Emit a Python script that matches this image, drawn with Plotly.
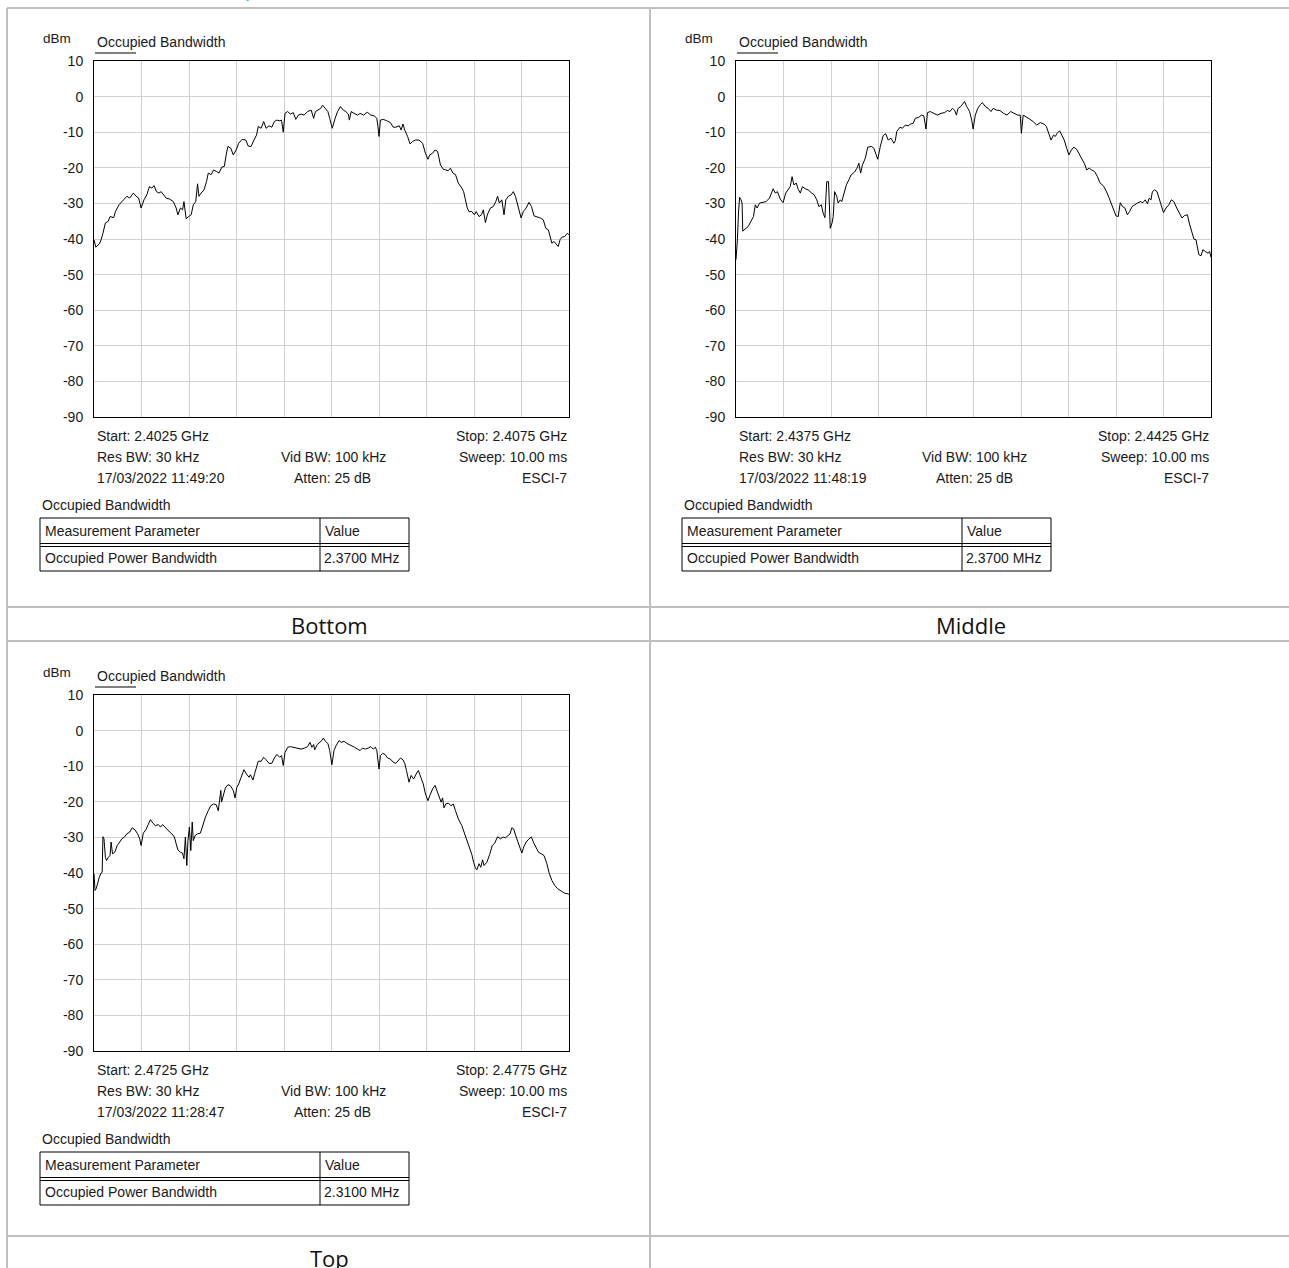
import plotly.graph_objects as go

W, H = 1289, 1268

# ---- measurement settings for the three channels ----
captions = ["Bottom", "Middle", "Top"]
start_ghz = [2.4025, 2.4375, 2.4725]
stop_ghz = [2.4075, 2.4425, 2.4775]
start_labels = ["Start: 2.4025 GHz", "Start: 2.4375 GHz", "Start: 2.4725 GHz"]
stop_labels = ["Stop: 2.4075 GHz", "Stop: 2.4425 GHz", "Stop: 2.4775 GHz"]
timestamps = ["17/03/2022 11:49:20", "17/03/2022 11:48:19", "17/03/2022 11:28:47"]
obw_values = ["2.3700 MHz", "2.3700 MHz", "2.3100 MHz"]

y_tick_vals = [10, 0, -10, -20, -30, -40, -50, -60, -70, -80, -90]
y_tick_labels = ["10", "0", "-10", "-20", "-30", "-40", "-50", "-60", "-70", "-80", "-90"]

# ---- traces: offset from start frequency (MHz) and level (dBm) ----
bottom_offset_mhz = [
    0.000, 0.019, 0.056, 0.075, 0.094, 0.120, 0.150, 0.169, 0.207, 0.226, 0.263, 0.293,
    0.320, 0.346, 0.376, 0.414, 0.444, 0.470, 0.496, 0.526, 0.556, 0.583, 0.609, 0.632,
    0.658, 0.684, 0.707, 0.733, 0.759, 0.797, 0.835, 0.865, 0.883, 0.910, 0.932, 0.947,
    0.970, 0.996, 1.023, 1.045, 1.071, 1.090, 1.105, 1.128, 1.158, 1.184, 1.203, 1.233,
    1.259, 1.286, 1.316, 1.346, 1.372, 1.391, 1.410, 1.440, 1.466, 1.496, 1.523, 1.560,
    1.598, 1.624, 1.654, 1.684, 1.711, 1.729, 1.759, 1.786, 1.812, 1.842, 1.872, 1.898,
    1.925, 1.955, 1.974, 1.992, 2.011, 2.038, 2.068, 2.098, 2.124, 2.150, 2.180, 2.211,
    2.248, 2.286, 2.312, 2.331, 2.361, 2.387, 2.406, 2.436, 2.462, 2.481, 2.508, 2.538,
    2.564, 2.594, 2.624, 2.650, 2.677, 2.688, 2.707, 2.737, 2.774, 2.801, 2.838, 2.876,
    2.914, 2.951, 2.977, 2.989, 3.000, 3.015, 3.045, 3.083, 3.120, 3.150, 3.177, 3.214,
    3.233, 3.252, 3.271, 3.301, 3.327, 3.353, 3.383, 3.421, 3.459, 3.489, 3.515, 3.534,
    3.564, 3.590, 3.617, 3.647, 3.677, 3.703, 3.729, 3.752, 3.778, 3.805, 3.835, 3.872,
    3.891, 3.910, 3.929, 3.947, 3.977, 4.004, 4.023, 4.053, 4.079, 4.098, 4.120, 4.143,
    4.173, 4.203, 4.229, 4.248, 4.267, 4.293, 4.316, 4.335, 4.361, 4.391, 4.414, 4.436,
    4.466, 4.496, 4.519, 4.549, 4.579, 4.605, 4.632, 4.662, 4.699, 4.729, 4.756, 4.782,
    4.805, 4.820, 4.842, 4.868, 4.887, 4.906, 4.925, 4.955, 4.981, 5.000,
]
bottom_dbm = [
    -40.2, -42.3, -41.4, -40.2, -38.4, -35.5, -35.0, -33.7, -34.0, -32.3, -30.4, -29.5,
    -29.0, -28.0, -28.5, -27.1, -28.0, -28.5, -31.3, -29.0, -27.6, -25.3, -25.7, -25.0,
    -26.7, -27.1, -26.7, -27.6, -28.5, -28.8, -29.5, -31.3, -33.2, -31.3, -31.8, -29.5,
    -34.3, -33.7, -33.2, -30.4, -29.5, -24.5, -28.0, -27.1, -26.2, -23.9, -21.5, -21.9,
    -20.6, -21.0, -21.5, -19.8, -19.6, -16.4, -14.0, -14.5, -16.4, -15.0, -13.1, -12.0,
    -12.2, -13.9, -14.0, -12.2, -10.8, -8.4, -8.9, -7.0, -8.9, -8.2, -8.6, -7.0,
    -6.6, -6.8, -6.6, -10.0, -4.7, -4.2, -4.9, -4.5, -6.4, -5.2, -4.9, -5.2,
    -4.2, -3.8, -6.1, -4.2, -3.8, -3.3, -2.4, -3.3, -4.2, -6.1, -8.9, -6.1,
    -4.2, -2.8, -3.8, -4.2, -4.9, -6.6, -4.2, -4.7, -5.2, -4.7, -5.2, -4.4,
    -5.2, -5.4, -6.1, -8.4, -11.2, -6.6, -6.4, -6.8, -7.3, -8.6, -8.6, -8.2,
    -9.4, -7.7, -9.4, -11.2, -13.3, -12.6, -12.2, -12.2, -13.1, -15.9, -17.6, -16.4,
    -15.9, -15.0, -15.4, -19.2, -20.4, -20.6, -20.8, -20.1, -21.5, -21.9, -24.3, -25.7,
    -26.7, -29.0, -31.3, -32.3, -32.3, -33.2, -32.3, -33.7, -33.2, -31.8, -35.4, -33.0,
    -31.3, -30.9, -29.5, -28.0, -29.9, -29.0, -33.2, -29.0, -28.0, -27.6, -26.7, -28.0,
    -30.9, -34.1, -32.3, -31.3, -29.7, -30.9, -33.5, -33.7, -34.1, -34.6, -37.0, -37.4,
    -39.3, -41.2, -40.7, -41.6, -42.1, -40.2, -39.5, -39.3, -38.4, -38.8,
]

middle_offset_mhz = [
    0.000, 0.015, 0.026, 0.038, 0.053, 0.064, 0.071, 0.098, 0.128, 0.158, 0.184, 0.203,
    0.222, 0.248, 0.278, 0.316, 0.353, 0.391, 0.414, 0.436, 0.466, 0.496, 0.523, 0.549,
    0.571, 0.590, 0.609, 0.635, 0.654, 0.677, 0.699, 0.729, 0.759, 0.797, 0.823, 0.850,
    0.872, 0.898, 0.917, 0.936, 0.955, 0.974, 0.985, 0.992, 1.011, 1.023, 1.038, 1.060,
    1.075, 1.098, 1.113, 1.135, 1.162, 1.188, 1.211, 1.248, 1.274, 1.293, 1.312, 1.331,
    1.361, 1.387, 1.425, 1.451, 1.474, 1.492, 1.519, 1.549, 1.575, 1.602, 1.632, 1.662,
    1.677, 1.692, 1.726, 1.752, 1.782, 1.812, 1.838, 1.865, 1.887, 1.925, 1.951, 1.977,
    2.000, 2.015, 2.045, 2.083, 2.120, 2.158, 2.195, 2.226, 2.252, 2.278, 2.301, 2.320,
    2.338, 2.365, 2.391, 2.406, 2.429, 2.459, 2.481, 2.496, 2.519, 2.545, 2.571, 2.594,
    2.624, 2.654, 2.684, 2.707, 2.741, 2.778, 2.816, 2.853, 2.891, 2.929, 2.966, 2.992,
    3.004, 3.023, 3.053, 3.090, 3.128, 3.165, 3.203, 3.241, 3.267, 3.286, 3.316, 3.342,
    3.361, 3.380, 3.406, 3.429, 3.455, 3.481, 3.504, 3.530, 3.556, 3.586, 3.617, 3.643,
    3.669, 3.692, 3.718, 3.744, 3.774, 3.805, 3.831, 3.868, 3.895, 3.925, 3.947, 3.970,
    4.000, 4.023, 4.045, 4.068, 4.094, 4.120, 4.143, 4.169, 4.195, 4.226, 4.256, 4.282,
    4.308, 4.331, 4.350, 4.368, 4.383, 4.406, 4.432, 4.459, 4.481, 4.500, 4.526, 4.556,
    4.583, 4.609, 4.639, 4.669, 4.695, 4.722, 4.752, 4.771, 4.797, 4.820, 4.842, 4.857,
    4.872, 4.895, 4.914, 4.940, 4.970, 4.985, 5.000,
]
middle_dbm = [
    -45.8, -40.2, -32.7, -28.3, -29.0, -29.9, -37.8, -37.3, -36.5, -35.0, -33.7, -30.4,
    -31.3, -29.9, -29.8, -29.5, -28.5, -25.9, -27.1, -26.7, -28.8, -29.8, -27.1, -26.2,
    -25.3, -22.5, -24.8, -24.3, -26.0, -27.1, -25.3, -25.9, -26.2, -27.1, -27.6, -29.0,
    -30.9, -30.4, -32.7, -34.0, -23.9, -23.9, -30.9, -37.0, -35.5, -33.7, -26.7, -28.0,
    -29.9, -29.0, -29.5, -27.6, -24.8, -23.4, -22.0, -21.2, -20.1, -18.7, -21.5, -19.2,
    -17.3, -14.2, -14.0, -14.5, -16.4, -17.6, -14.0, -11.0, -10.4, -12.2, -11.7, -13.1,
    -12.4, -9.8, -8.6, -8.9, -8.0, -8.2, -7.7, -7.5, -6.1, -5.8, -5.2, -5.4,
    -9.1, -4.5, -4.2, -4.7, -5.2, -4.7, -4.5, -3.9, -4.2, -3.3, -3.8, -5.2,
    -3.3, -2.8, -1.9, -1.4, -2.8, -4.2, -6.6, -9.1, -5.2, -3.3, -2.3, -1.7,
    -2.8, -3.3, -4.2, -3.3, -3.8, -3.9, -4.7, -5.2, -4.2, -4.7, -5.2, -5.2,
    -10.3, -5.2, -5.6, -6.3, -7.0, -8.0, -7.3, -7.7, -8.4, -9.8, -12.2, -10.8,
    -11.2, -10.3, -9.6, -10.8, -12.2, -14.5, -16.4, -15.0, -14.2, -14.8, -16.4, -17.8,
    -18.9, -20.6, -20.1, -20.6, -21.0, -22.5, -24.2, -25.1, -26.4, -28.3, -29.9, -31.8,
    -33.5, -33.7, -29.8, -30.9, -31.3, -33.2, -32.3, -30.9, -30.4, -29.9, -29.5, -29.8,
    -29.0, -30.1, -28.5, -29.0, -26.7, -26.2, -26.7, -29.0, -30.4, -32.6, -31.3, -30.4,
    -29.0, -29.5, -31.3, -32.7, -34.1, -33.4, -33.2, -35.5, -37.6, -40.0, -40.2, -42.6,
    -44.4, -44.7, -43.0, -43.5, -44.0, -43.5, -45.1,
]

top_offset_mhz = [
    0.000, 0.011, 0.023, 0.038, 0.056, 0.075, 0.086, 0.094, 0.105, 0.120, 0.132, 0.150,
    0.169, 0.180, 0.195, 0.218, 0.244, 0.271, 0.293, 0.320, 0.346, 0.376, 0.402, 0.432,
    0.459, 0.481, 0.496, 0.519, 0.545, 0.571, 0.594, 0.620, 0.647, 0.677, 0.699, 0.722,
    0.744, 0.771, 0.797, 0.820, 0.846, 0.865, 0.883, 0.910, 0.932, 0.947, 0.962, 0.977,
    0.989, 1.004, 1.019, 1.034, 1.045, 1.064, 1.090, 1.120, 1.147, 1.173, 1.203, 1.229,
    1.259, 1.286, 1.308, 1.323, 1.335, 1.342, 1.361, 1.383, 1.410, 1.436, 1.466, 1.485,
    1.504, 1.523, 1.549, 1.579, 1.605, 1.632, 1.647, 1.673, 1.692, 1.711, 1.729, 1.759,
    1.786, 1.812, 1.842, 1.872, 1.898, 1.925, 1.955, 1.974, 1.992, 2.011, 2.038, 2.068,
    2.105, 2.143, 2.180, 2.218, 2.248, 2.274, 2.293, 2.312, 2.323, 2.350, 2.376, 2.398,
    2.414, 2.436, 2.462, 2.481, 2.504, 2.526, 2.549, 2.579, 2.602, 2.632, 2.662, 2.688,
    2.714, 2.744, 2.774, 2.801, 2.827, 2.857, 2.887, 2.914, 2.940, 2.962, 2.977, 2.989,
    3.000, 3.015, 3.038, 3.064, 3.090, 3.120, 3.150, 3.177, 3.203, 3.226, 3.252, 3.271,
    3.289, 3.316, 3.338, 3.365, 3.391, 3.414, 3.440, 3.466, 3.489, 3.515, 3.534, 3.564,
    3.590, 3.617, 3.639, 3.654, 3.669, 3.684, 3.703, 3.729, 3.759, 3.782, 3.805, 3.835,
    3.872, 3.902, 3.929, 3.955, 3.977, 3.996, 4.015, 4.030, 4.053, 4.071, 4.090, 4.105,
    4.135, 4.165, 4.192, 4.218, 4.248, 4.278, 4.305, 4.331, 4.353, 4.380, 4.398, 4.417,
    4.444, 4.474, 4.504, 4.523, 4.549, 4.579, 4.605, 4.624, 4.654, 4.680, 4.707, 4.737,
    4.767, 4.793, 4.820, 4.850, 4.880, 4.906, 4.932, 4.955, 4.981, 5.000,
]
top_dbm = [
    -40.2, -44.9, -44.4, -42.6, -41.2, -40.0, -39.8, -29.8, -30.4, -35.6, -36.5, -35.6,
    -35.1, -31.3, -34.6, -34.2, -32.3, -31.3, -30.4, -29.9, -29.0, -28.5, -27.3, -27.9,
    -29.0, -30.4, -32.3, -28.8, -27.9, -26.4, -25.0, -26.0, -26.7, -26.4, -27.1, -26.4,
    -27.1, -27.9, -28.5, -29.0, -29.9, -31.8, -33.5, -34.2, -34.4, -36.0, -29.9, -37.9,
    -30.9, -27.1, -33.7, -25.7, -30.9, -29.5, -29.0, -28.8, -26.2, -24.3, -22.5, -21.1,
    -20.6, -20.8, -22.5, -19.2, -16.8, -20.1, -17.8, -16.1, -15.2, -15.5, -16.8, -18.9,
    -15.9, -15.0, -13.1, -11.0, -12.2, -13.1, -12.4, -13.9, -12.0, -10.3, -8.6, -8.6,
    -7.5, -8.2, -9.2, -9.2, -7.7, -6.7, -7.5, -7.0, -9.8, -6.1, -4.7, -4.5,
    -4.7, -4.9, -5.2, -4.9, -4.5, -3.3, -4.7, -3.9, -5.4, -3.9, -3.3, -2.8,
    -2.1, -3.0, -3.6, -5.6, -9.6, -5.6, -4.2, -2.8, -3.3, -3.0, -3.6, -3.9,
    -4.2, -4.7, -5.2, -5.6, -4.9, -5.2, -4.9, -4.5, -5.2, -4.7, -5.6, -8.0,
    -10.8, -7.0, -6.4, -6.7, -7.7, -8.0, -8.9, -9.2, -8.4, -7.7, -8.2, -9.2,
    -11.2, -14.5, -12.6, -13.6, -12.2, -11.2, -13.1, -15.0, -17.8, -19.7, -18.3, -16.4,
    -15.4, -17.3, -18.7, -20.1, -18.9, -21.7, -20.6, -20.4, -21.1, -20.6, -22.5, -24.8,
    -26.7, -29.0, -30.9, -33.2, -34.8, -37.0, -38.6, -39.1, -37.4, -38.4, -36.3, -37.9,
    -37.0, -34.8, -32.3, -31.6, -29.8, -30.4, -29.9, -30.1, -29.5, -29.0, -27.3, -27.6,
    -29.9, -32.3, -34.4, -32.7, -31.3, -30.4, -29.9, -31.3, -32.7, -34.2, -34.6, -35.1,
    -37.4, -40.2, -42.1, -43.5, -44.4, -44.9, -45.4, -45.7, -45.8, -46.0,
]

offsets = [bottom_offset_mhz, middle_offset_mhz, top_offset_mhz]
levels = [bottom_dbm, middle_dbm, top_dbm]

# ---- page geometry helpers (page pixel -> paper fraction) ----
# the drawing area sits 8 px below the page top and is 1252 px tall
TOP_PAD = 8
PAPER_H = 1252


def px(x):
    return x / W


def py(y):
    return 1 - (y - TOP_PAD) / PAPER_H


INSTR_FONT = "Liberation Sans, Arial, sans-serif"
CAPTION_FONT = "Open Sans, Noto Sans, sans-serif"
TEXT = "#1a1a1a"
BORDER = "#bfbfbf"

# panel origins (x, y) in pixels
origins = [(0, 0), (642, 0), (0, 634)]

fig = go.Figure()
annotations = []
shapes = []


def label(x, y, text, anchor="left", size=14, family=INSTR_FONT, color=TEXT):
    annotations.append(dict(
        x=px(x), y=py(y), xref="paper", yref="paper", text=text, showarrow=False,
        xanchor=anchor, yanchor="middle", font=dict(family=family, size=size, color=color),
    ))


def hline(x0, x1, y, color="black", width=1):
    shapes.append(dict(type="line", xref="paper", yref="paper", x0=px(x0), x1=px(x1),
                       y0=py(y), y1=py(y), line=dict(color=color, width=width)))


def vline(x, y0, y1, color="black", width=1):
    shapes.append(dict(type="line", xref="paper", yref="paper", x0=px(x), x1=px(x),
                       y0=py(y0), y1=py(y1), line=dict(color=color, width=width)))


for i in range(3):
    ox, oy = origins[i]
    idx = "" if i == 0 else str(i + 1)
    freqs = [start_ghz[i] + f / 1000.0 for f in offsets[i]]
    fig.add_trace(go.Scatter(
        x=freqs, y=levels[i], mode="lines", xaxis="x" + idx, yaxis="y" + idx,
        line=dict(color="black", width=1), hoverinfo="skip", showlegend=False,
    ))
    fig.update_layout(**{
        "xaxis" + idx: dict(
            domain=[px(ox + 94), px(ox + 569)], anchor="y" + idx,
            range=[start_ghz[i], stop_ghz[i]], tick0=start_ghz[i], dtick=0.0005,
            showticklabels=False, ticks="", showgrid=True, gridcolor="#d0d0d0", gridwidth=1,
            zeroline=False, showline=True, linecolor="black", linewidth=1, mirror=True,
            fixedrange=True,
        ),
        "yaxis" + idx: dict(
            domain=[py(oy + 417), py(oy + 61)], anchor="x" + idx,
            range=[-90, 10], tickvals=y_tick_vals, ticktext=y_tick_labels,
            ticks="", ticklabelstandoff=7, showgrid=True, gridcolor="#d0d0d0", gridwidth=1,
            zeroline=False, showline=True, linecolor="black", linewidth=1, mirror=True,
            tickfont=dict(family=INSTR_FONT, size=14, color=TEXT), fixedrange=True,
        ),
    })

    # header above the graticule
    label(ox + 41, oy + 38, "dBm", size=13.5)
    label(ox + 95, oy + 42, "Occupied Bandwidth", size=14)
    hline(ox + 95, ox + 136, oy + 53)

    # instrument settings under the graticule
    label(ox + 95, oy + 436, start_labels[i])
    label(ox + 569, oy + 436, stop_labels[i], anchor="right")
    label(ox + 95, oy + 457, "Res BW: 30 kHz")
    label(ox + 333, oy + 457, "Vid BW: 100 kHz", anchor="center")
    label(ox + 569, oy + 457, "Sweep: 10.00 ms", anchor="right")
    label(ox + 95, oy + 478, timestamps[i])
    label(ox + 332, oy + 478, "Atten: 25 dB", anchor="center")
    label(ox + 569, oy + 478, "ESCI-7", anchor="right")

    # result table
    label(ox + 40, oy + 505, "Occupied Bandwidth")
    t0, t1 = ox + 40, ox + 409
    hline(t0, t1, oy + 518)
    hline(t0, t1, oy + 543.5)
    hline(t0, t1, oy + 546.5)
    hline(t0, t1, oy + 571)
    vline(t0, oy + 518, oy + 571)
    vline(t1, oy + 518, oy + 571)
    vline(ox + 320, oy + 518, oy + 571)
    label(ox + 43, oy + 531, "Measurement Parameter")
    label(ox + 323, oy + 531, "Value")
    label(ox + 43, oy + 558, "Occupied Power Bandwidth")
    label(ox + 322, oy + 558, obw_values[i])

# captions under each panel
label(329, 625, captions[0], anchor="center", size=22, family=CAPTION_FONT, color="#111111")
label(971, 625, captions[1], anchor="center", size=22, family=CAPTION_FONT, color="#111111")
label(329, 1258, captions[2], anchor="center", size=22, family=CAPTION_FONT, color="#111111")

# heading line above the layout table (only its lowest part is on the page)
label(8, -9, "99% Bandwidth (OBW) Result plots", size=17, family=CAPTION_FONT, color="#2e86de")

# layout table grid
hline(7, W, 8, BORDER, 2)
hline(7, W, 607, BORDER, 2)
hline(7, W, 641, BORDER, 2)
hline(7, W, 1236, BORDER, 2)
vline(7, 8, H, BORDER, 2)
vline(650, 8, H, BORDER, 2)

fig.update_layout(
    width=W, height=H, margin=dict(l=0, r=0, t=0, b=0),
    paper_bgcolor="white", plot_bgcolor="white", showlegend=False,
    annotations=annotations, shapes=shapes, hovermode=False,
)

fig.write_html("out.html", config={"displayModeBar": False})
